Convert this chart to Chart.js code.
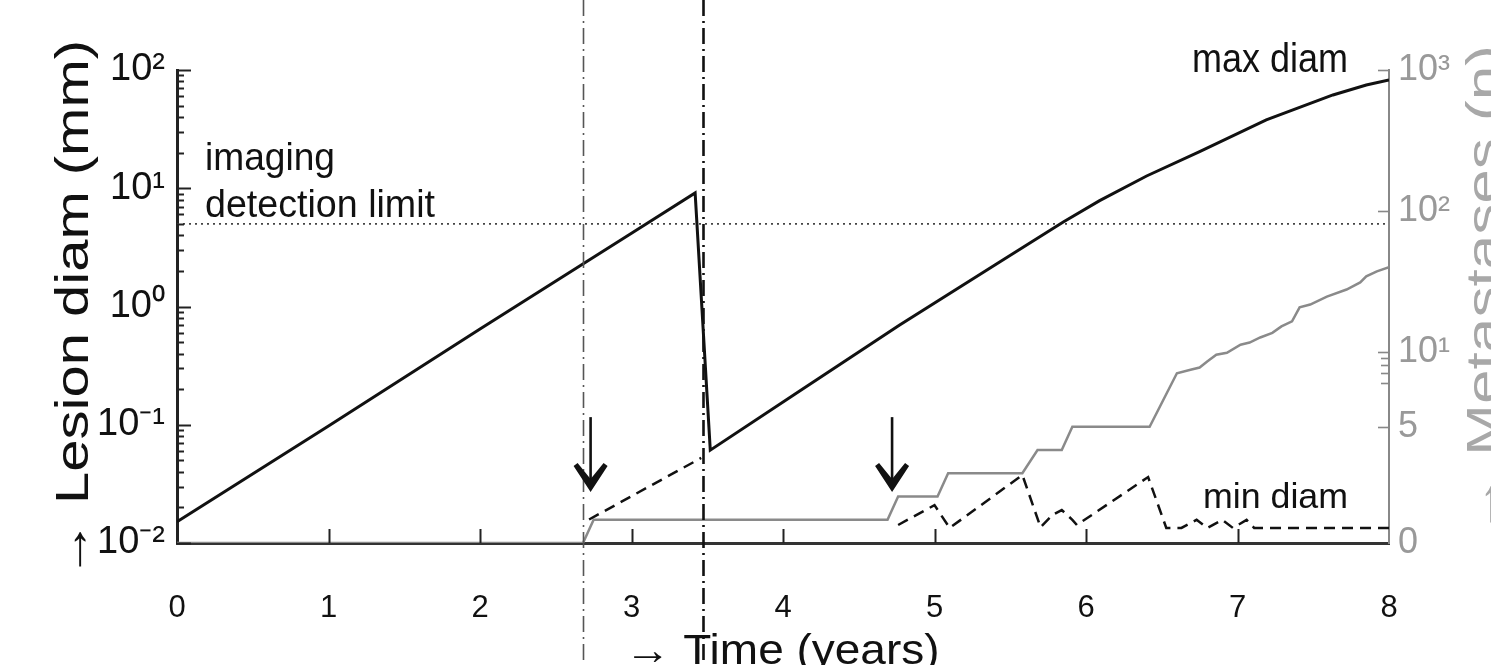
<!DOCTYPE html>
<html>
<head>
<meta charset="utf-8">
<script src="https://cdn.jsdelivr.net/npm/chart.js@4.4.0/dist/chart.umd.min.js"></script>
<style>
html,body{margin:0;padding:0;background:#fff;}
#wrap{width:1491px;height:665px;position:relative;}
</style>
</head>
<body>
<div id="wrap"><canvas id="c"></canvas></div>
<script>
// ---------- data ----------
const xTickValues = [0, 1, 2, 3, 4, 5, 6, 7, 8];
const leftTickValues = [0.01, 0.1, 1, 10, 100];
const leftTickLabels = ['10⁻²', '10⁻¹', '10⁰', '10¹', '10²'];
const rightTickValues = [0, 5, 10, 100, 1000];
const rightTickLabels = ['0', '5', '10¹', '10²', '10³'];
const rightMinorValues = [6, 7, 8, 9];

const maxTimes = [0, 1, 2, 3, 3.42, 3.52, 4.11, 4.77, 5.43, 5.85, 6.09, 6.4, 6.75, 7.19, 7.63, 7.85, 8.0];
const maxDiam  = [0.0151, 0.0977, 0.646, 4.16, 9.12, 0.061, 0.193, 0.698, 2.38, 5.19, 7.85, 12.7, 20.4, 37.8, 61.5, 74.6, 82.2];

const minTimes = [2.72, 3.46, 4.0, 4.76, 5.00, 5.10, 5.58, 5.70, 5.78, 5.84, 5.91, 5.94, 6.41, 6.53, 6.63, 6.73, 6.80, 6.90, 6.97, 7.06, 7.11, 8.0];
const minDiam  = [0.0158, 0.0524, null, 0.0142, 0.0209, 0.0134, 0.0376, 0.0136, 0.0173, 0.019, 0.0157, 0.0142, 0.0361, 0.0134, 0.0134, 0.0157, 0.0134, 0.0157, 0.0134, 0.0157, 0.0134, 0.0134];

const metTimes  = [0, 2.68, 2.75, 4.69, 4.76, 5.02, 5.09, 5.58, 5.68, 5.84, 5.91, 6.42, 6.60, 6.69, 6.75, 6.80, 6.86, 6.93, 7.02, 7.08, 7.15, 7.23, 7.29, 7.36, 7.41, 7.48, 7.59, 7.72, 7.81, 7.85, 7.92, 8.0];
const metCounts = [0, 0, 1, 1, 2, 2, 3, 3, 4, 4, 5, 5, 7.3, 7.45, 7.7, 8.5, 9.5, 9.8, 11.2, 11.6, 12.6, 13.6, 15.1, 16.4, 20.6, 21.6, 24.6, 27.6, 31.0, 34.2, 37.1, 39.7];

const detTimes = [0, 8];
const detLimit = [5, 5];

const eventTimes = [2.68, 3.47];
const arrowTimes = [2.73, 4.72];
const arrowFrom = [0.116, 0.116];
const arrowTo = [0.027, 0.027];

// ---------- right (broken: linear low part, log upper part) axis ----------
const LIN_UNIT = 23.2, LOG_BASE = 191, LOG_DEC = 140.5, BREAK_N = 7.45;
function metLog(n) { return LOG_BASE + LOG_DEC * (Math.log10(n) - 1); }
function metScale(n) { return n <= BREAK_N ? LIN_UNIT * n : metLog(n); }

const FONT = "'Liberation Sans', Arial, Helvetica, sans-serif";
const zip = (xs, ys, f) => xs.map((x, i) => ({ x: x, y: ys[i] === null ? null : (f ? f(ys[i]) : ys[i]) }));

// ---------- decorations drawn through the scales ----------
function drawFitted(ctx, text, x, y, size, target, o) {
  o = o || {};
  ctx.save();
  ctx.font = size + 'px ' + FONT;
  const w = ctx.measureText(text).width;
  const sx = target ? target / w : 1;
  ctx.translate(x, y);
  if (o.rotate) ctx.rotate(o.rotate);
  ctx.scale(sx, 1);
  ctx.textAlign = o.align || 'left';
  ctx.textBaseline = 'alphabetic';
  ctx.fillStyle = o.color || '#111';
  ctx.fillText(text, 0, 0);
  ctx.restore();
}

const decor = {
  id: 'decor',
  afterDatasetsDraw(chart) {
    const { ctx, chartArea: a, scales } = chart;
    const x = scales.x, y = scales.y;
    ctx.save();
    // vertical dash-dot event lines (span full figure height)
    eventTimes.forEach((t, i) => {
      const px = Math.round(x.getPixelForValue(t)) + 0.5;
      ctx.beginPath();
      ctx.setLineDash([16, 5, 2, 5]);
      ctx.lineWidth = i === 0 ? 1.6 : 2.6;
      ctx.strokeStyle = i === 0 ? '#555' : '#111';
      ctx.moveTo(px, 0);
      ctx.lineTo(px, chart.height);
      ctx.stroke();
    });
    ctx.setLineDash([]);
    // arrows
    arrowTimes.forEach((t, i) => {
      const px = x.getPixelForValue(t);
      const y0 = y.getPixelForValue(arrowFrom[i]);
      const y1 = y.getPixelForValue(arrowTo[i]);
      ctx.strokeStyle = '#111';
      ctx.fillStyle = '#111';
      ctx.lineWidth = 2.6;
      ctx.beginPath();
      ctx.moveTo(px, y0);
      ctx.lineTo(px, y1 - 6);
      ctx.stroke();
      ctx.beginPath();
      ctx.moveTo(px, y1);
      ctx.lineTo(px - 17, y1 - 26);
      ctx.lineTo(px - 13, y1 - 29);
      ctx.lineTo(px, y1 - 13);
      ctx.lineTo(px + 13, y1 - 29);
      ctx.lineTo(px + 17, y1 - 26);
      ctx.closePath();
      ctx.fill();
    });
    ctx.restore();
  },
  afterDraw(chart) {
    const { ctx, chartArea: a, scales } = chart;
    const x = scales.x, y = scales.y, y2 = scales.y2;
    ctx.save();
    // inward tick marks
    ctx.strokeStyle = '#222';
    ctx.lineWidth = 2;
    xTickValues.forEach(v => {
      if (v === x.min || v === x.max) return;
      const px = Math.round(x.getPixelForValue(v)) + 0.5;
      ctx.beginPath(); ctx.moveTo(px, a.bottom); ctx.lineTo(px, a.bottom - 14); ctx.stroke();
    });
    leftTickValues.forEach(v => {
      const py = Math.round(y.getPixelForValue(v)) + 0.5;
      ctx.beginPath(); ctx.moveTo(a.left, py); ctx.lineTo(a.left + 14, py); ctx.stroke();
      if (v < 100) {
        for (let k = 2; k <= 9; k++) {
          const pm = Math.round(y.getPixelForValue(v * k)) + 0.5;
          ctx.beginPath(); ctx.moveTo(a.left, pm); ctx.lineTo(a.left + 7, pm); ctx.stroke();
        }
      }
    });
    ctx.strokeStyle = '#888';
    ctx.lineWidth = 1.6;
    rightTickValues.forEach(v => {
      if (v === 0) return;
      const py = Math.round(y2.getPixelForValue(metScale(v))) + 0.5;
      ctx.beginPath(); ctx.moveTo(a.right, py); ctx.lineTo(a.right - 11, py); ctx.stroke();
    });
    rightMinorValues.forEach(v => {
      const py = Math.round(y2.getPixelForValue(metLog(v))) + 0.5;
      ctx.beginPath(); ctx.moveTo(a.right, py); ctx.lineTo(a.right - 8, py); ctx.stroke();
    });
    ctx.restore();

    // texts
    drawFitted(ctx, 'imaging', a.left + 28, 170, 39, 130);
    drawFitted(ctx, 'detection limit', a.left + 28, 217, 39, 230);
    drawFitted(ctx, 'max diam', a.right - 41, 72, 40, 156, { align: 'right' });
    drawFitted(ctx, 'min diam', a.right - 186, 508, 35, 145);
    // axis titles
    drawFitted(ctx, '→ Time (years)', 782, 664, 42, 315, { align: 'center' });
    drawFitted(ctx, '→ Lesion diam (mm)', 88, 309, 46, 538, { align: 'center', rotate: -Math.PI / 2 });
    drawFitted(ctx, '→ Metastases (n)', 1499, 290, 46, 490, { align: 'center', rotate: -Math.PI / 2, color: '#a8a8a8' });
  }
};

const chart = new Chart(document.getElementById('c'), {
  type: 'scatter',
  data: {
    datasets: [
      { label: 'max diam', data: zip(maxTimes, maxDiam), yAxisID: 'y', showLine: true,
        borderColor: '#111', borderWidth: 3, pointRadius: 0, tension: 0 },
      { label: 'min diam', data: zip(minTimes, minDiam), yAxisID: 'y', showLine: true, spanGaps: false,
        borderColor: '#111', borderWidth: 2.5, borderDash: [11, 7], pointRadius: 0, tension: 0 },
      { label: 'imaging detection limit', data: zip(detTimes, detLimit), yAxisID: 'y', showLine: true,
        borderColor: '#444', borderWidth: 1.6, borderDash: [2, 4], pointRadius: 0 },
      { label: 'Metastases (n)', data: zip(metTimes, metCounts, metScale), yAxisID: 'y2', showLine: true,
        borderColor: '#8a8a8a', borderWidth: 2.5, pointRadius: 0, tension: 0 }
    ]
  },
  options: {
    responsive: true,
    maintainAspectRatio: false,
    animation: false,
    layout: { padding: { top: 70, left: 0, right: 0, bottom: 0 } },
    plugins: { legend: { display: false }, tooltip: { enabled: false } },
    scales: {
      x: {
        type: 'linear', position: 'bottom', min: 0, max: 8,
        afterFit: s => { s.height = 122; },
        afterBuildTicks: s => { s.ticks = xTickValues.map(v => ({ value: v })); },
        grid: { display: false, drawTicks: false },
        border: { display: true, color: '#333', width: 3 },
        ticks: { color: '#111', font: { family: FONT, size: 31 }, padding: 47, maxRotation: 0,
                 callback: v => String(v) }
      },
      y: {
        type: 'logarithmic', position: 'left', min: 0.01, max: 100,
        afterFit: s => { s.width = 177; },
        afterBuildTicks: s => { s.ticks = leftTickValues.map(v => ({ value: v })); },
        grid: { display: false, drawTicks: false },
        border: { display: true, color: '#222', width: 3 },
        ticks: { color: '#111', font: { family: FONT, size: 38 }, padding: 12,
                 callback: (v, i) => leftTickLabels[i] }
      },
      y2: {
        type: 'linear', position: 'right', min: 0, max: metScale(1000),
        afterFit: s => { s.width = 102; },
        afterBuildTicks: s => { s.ticks = rightTickValues.map(v => ({ value: metScale(v) })); },
        grid: { display: false, drawTicks: false },
        border: { display: true, color: '#888', width: 2 },
        ticks: { color: '#999', font: { family: FONT, size: 36 }, padding: 9,
                 callback: (v, i) => rightTickLabels[i] }
      }
    }
  },
  plugins: [decor]
});
</script>
</body>
</html>
